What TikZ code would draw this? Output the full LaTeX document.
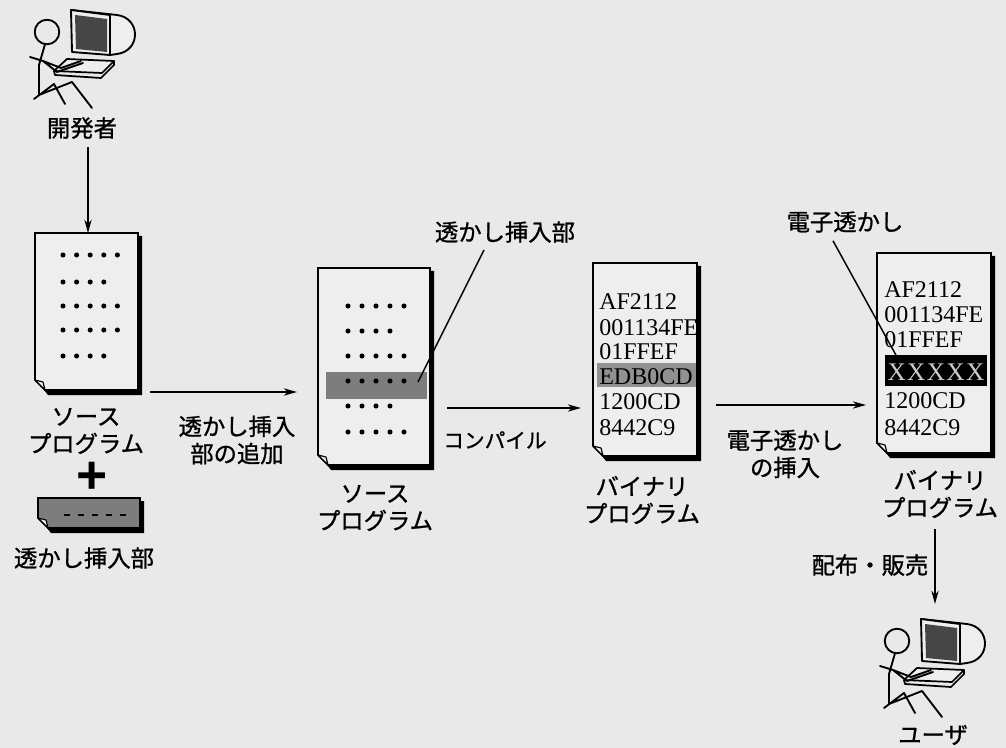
\documentclass[tikz,border=0pt]{standalone}
\usepackage{fontspec}
\setmainfont{Liberation Serif}
\newfontfamily\jp[FakeBold=1]{Noto Sans CJK JP}
\newfontfamily\sansf{Liberation Sans}
\usetikzlibrary{arrows.meta}

\definecolor{bg}{RGB}{233,233,233}
\definecolor{paper}{RGB}{238,238,238}
\definecolor{band}{RGB}{125,125,125}
\definecolor{screen}{RGB}{70,70,70}

% a sheet with a drop shadow on the right and bottom and a curled lower-left corner
\newcommand\papersheet[5]{%
  \fill[black] (#4,{#3+3}) -- ({#4+4},{#3+3}) -- ({#4+4},{#5+5}) -- ({#2+13},{#5+5}) -- ({#2+9},#5) -- (#4,#5) -- cycle;
  \filldraw[fill=#1,line width=1.3pt,line join=miter] (#2,{#5-10}) -- (#2,#3) -- (#4,#3) -- (#4,#5) -- ({#2+10},#5) -- cycle;
  \filldraw[fill=paper,line width=0.9pt,line join=round] (#2,{#5-10}) -- ({#2+8},{#5-8}) -- ({#2+10},#5) -- cycle;
}

\tikzset{
  jlabel/.style={font=\jp\fontsize{17.5}{20.5}\selectfont,inner sep=0pt,align=center},
  hexline/.style={font=\fontsize{18}{20}\selectfont,anchor=base west,inner sep=0pt},
  flow/.style={line width=1.3pt,-{Stealth[length=10pt,width=5.5pt]}},
  leader/.style={line width=1.1pt},
  pics/seated/.style={code={
    % monitor: rounded back, framed front, dark screen
    \draw[line width=1.4pt,fill=paper,line join=round] (24,-22) -- (70,-17)
       .. controls (94,-14) and (94,19) .. (70,22) -- (63,23) -- cycle;
    \draw[line width=1.4pt,fill=paper,line join=round] (24,-22) -- (63,-17) -- (63,23) -- (25,20) -- cycle;
    \fill[screen] (28,-17) -- (60,-13) -- (60,20) -- (29,17) -- cycle;
    % keyboard
    \draw[line width=1.3pt,fill=paper,line join=round] (7,39) -- (20,27) -- (67,29) -- (55,41) -- cycle;
    \draw[line width=1.3pt,line join=round] (7,39) -- (8,43) -- (54,46) -- (67,33) -- (67,29);
    % stick figure
    \draw[line width=1.4pt] (0,0) circle (9.2pt);
    \draw[line width=1.4pt,line join=round,line cap=round]
      (-2,12.3) -- (-8,33) -- (-8,63)
      (-17,25) -- (-4,29) -- (10,40) -- (36,31)
      (-4,29) -- (14,36) -- (34,29)
      (-13,67) -- (7,52) -- (18,72)
      (-8,63) -- (25,50) -- (45,76);
  }}
}

\begin{document}
\begin{tikzpicture}[x=0.75pt,y=-0.75pt]
\fill[bg] (0,0) rectangle (1006,748);
\useasboundingbox (0,0) rectangle (1006,748);

% developer
\pic at (47,32) {seated};
\node[jlabel] (dev) at (82,128) {開発者};

% source program
\papersheet{paper}{35}{233}{138}{390}
\foreach \y/\n in {255/5,282/4,306/5,330/5,356/4}
  \foreach \i in {1,...,\n} \fill ({63+(\i-1)*13.6},\y) circle (1.9pt);
\coordinate (doc1top) at (88,233);
\node[jlabel] (src1) at (86,431) {ソース\\プログラム};
\node[font=\sansf\bfseries\fontsize{40}{40}\selectfont,inner sep=0pt] (plus) at (92,478) {+};

% embedding piece
\papersheet{band}{38}{498}{140}{528}
\foreach \i in {0,...,4} \draw[line width=2pt] ({64+\i*14},515) -- ({70+\i*14},515);
\node[jlabel] (piece) at (84,558) {透かし挿入部};

\draw[flow] (dev.south) ++(6,8) -- (doc1top);

% source program with the embedding part
\papersheet{paper}{318}{268}{430}{465}
\fill[band] (326,372) rectangle (427,399);
\foreach \y/\n in {306/5,331/4,356/5,381/5,406/4,432/5}
  \foreach \i in {1,...,\n} \fill ({348+(\i-1)*14},\y) circle (1.9pt);
\coordinate (bandpt) at (418,382);
\node[jlabel] (insertpart) at (505,232) {透かし挿入部};
\draw[leader] (bandpt) -- (484,250);
\node[jlabel] (src2) at (375,508) {ソース\\プログラム};

\coordinate (a1s) at (150,392);
\coordinate (a1e) at (297,392);
\draw[flow] (a1s) -- (a1e);
\node[jlabel] (addpart) at (237,440) {透かし挿入\\部の追加};

% binary program
\papersheet{paper}{593}{263}{697}{456}
\fill[band!85] (597,363) rectangle (696,387);
\node[hexline] (b1) at (599,310) {AF2112};
\node[hexline] (b2) at (599,335) {001134FE};
\node[hexline] (b3) at (599,359) {01FFEF};
\node[hexline] (b4) at (599,384) {EDB0CD};
\node[hexline] (b5) at (599,409) {1200CD};
\node[hexline] (b6) at (599,435) {8442C9};
\node[jlabel] (bin1) at (642,500) {バイナリ\\プログラム};

\coordinate (a2s) at (447,408);
\coordinate (a2e) at (581,408);
\draw[flow] (a2s) -- (a2e);
\node[jlabel,font=\jp\fontsize{15.5}{18}\selectfont] (compile) at (495,440) {コンパイル};

% watermarked binary program
\papersheet{paper}{877}{253}{991}{453}
\fill[black] (885,355) rectangle (987,386);
\node[hexline] (w1) at (884,298) {AF2112};
\node[hexline] (w2) at (884,323) {001134FE};
\node[hexline] (w3) at (884,348) {01FFEF};
\node[hexline,anchor=base,text=white!80!black,font=\fontsize{19}{20}\selectfont] (w4) at (936,380) {X\kern1pt X\kern1pt X\kern1pt X\kern1pt X};
\node[hexline] (w5) at (884,408) {1200CD};
\node[hexline] (w6) at (884,435) {8442C9};
\node[jlabel] (wm) at (845,222) {電子透かし};
\coordinate (wmpt) at (897,357);
\draw[leader] (wm.south) ++(-12,8) -- (wmpt);
\node[jlabel] (bin2) at (940,494) {バイナリ\\プログラム};

\coordinate (a3s) at (716,405);
\coordinate (a3e) at (866,405);
\draw[flow] (a3s) -- (a3e);
\node[jlabel] (embed) at (785,454) {電子透かし\\の挿入};

% distribution to the user
\coordinate (a4s) at (935,529);
\coordinate (a4e) at (935,604);
\draw[flow] (a4s) -- (a4e);
\node[jlabel] (sell) at (870,565) {配布・販売};

\pic at (897,641) {seated};
\node[jlabel] (user) at (933,735) {ユーザ};
\end{tikzpicture}
\end{document}
